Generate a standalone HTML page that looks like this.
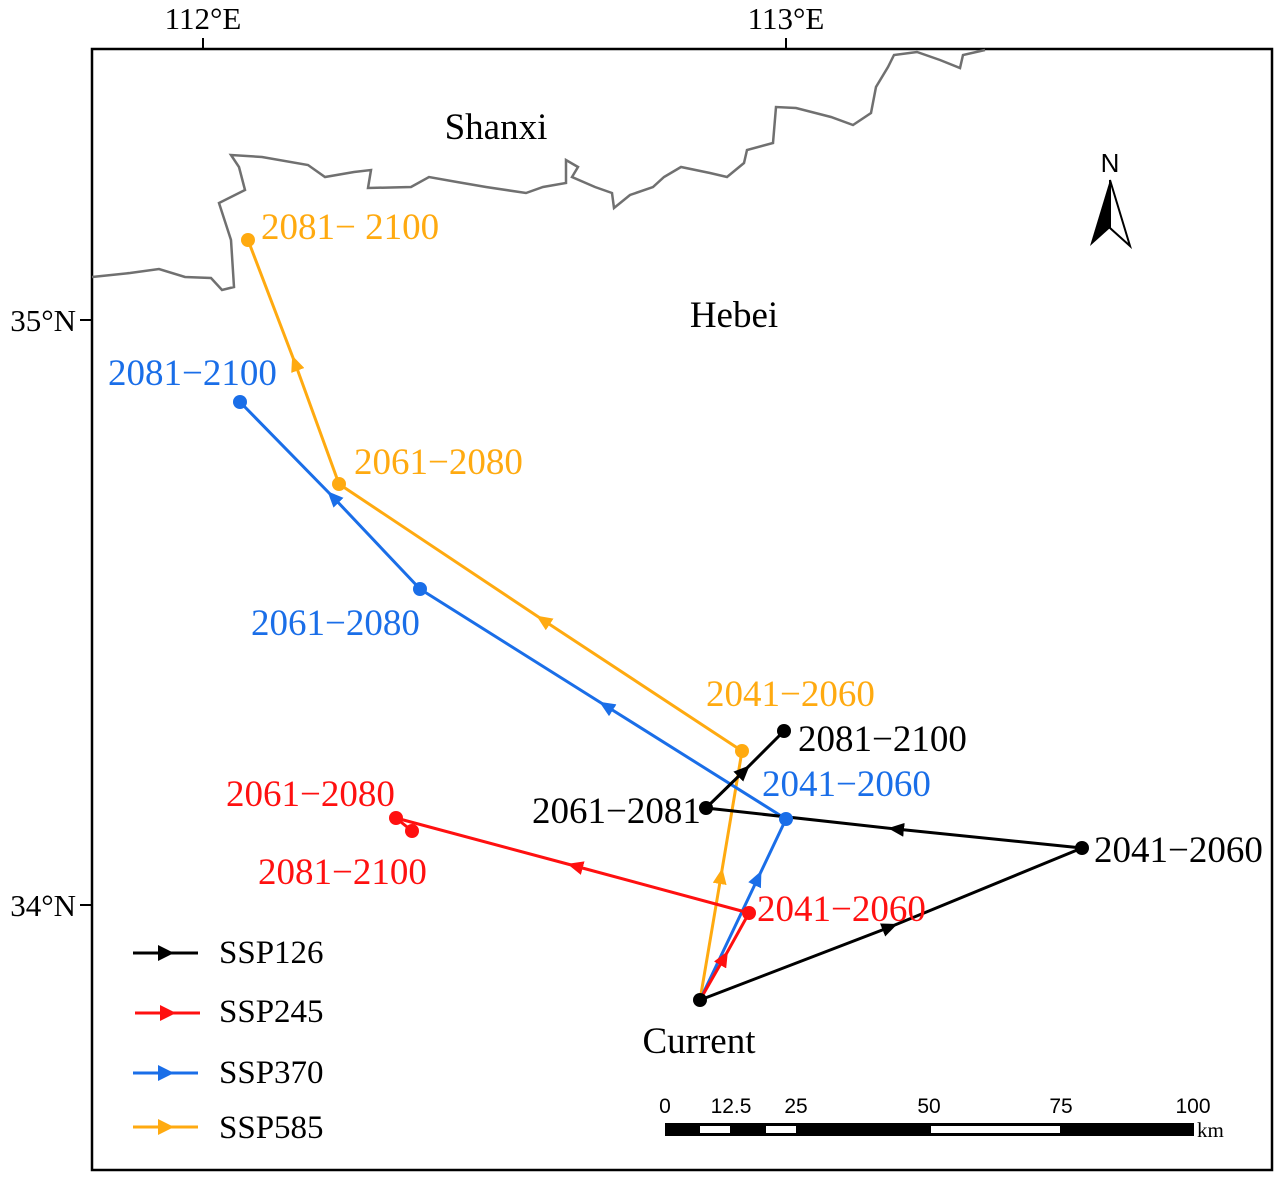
<!DOCTYPE html>
<html><head><meta charset="utf-8"><style>
html,body{margin:0;padding:0;background:#fff;}
svg{display:block;}
text{font-family:"Liberation Serif",serif;}
text.s{font-family:"Liberation Sans",sans-serif;}
</style></head><body>
<svg width="1280" height="1181" viewBox="0 0 1280 1181" xmlns="http://www.w3.org/2000/svg">
<defs>
<marker id="mk" viewBox="0 0 16 14" refX="8" refY="7" markerWidth="16" markerHeight="14" markerUnits="userSpaceOnUse" orient="auto"><path d="M0,0 L16,7 L0,14 Z" fill="#000"/></marker>
<marker id="mr" viewBox="0 0 16 14" refX="8" refY="7" markerWidth="16" markerHeight="14" markerUnits="userSpaceOnUse" orient="auto"><path d="M0,0 L16,7 L0,14 Z" fill="#ff1010"/></marker>
<marker id="mb" viewBox="0 0 16 14" refX="8" refY="7" markerWidth="16" markerHeight="14" markerUnits="userSpaceOnUse" orient="auto"><path d="M0,0 L16,7 L0,14 Z" fill="#1a6ee8"/></marker>
<marker id="mo" viewBox="0 0 16 14" refX="8" refY="7" markerWidth="16" markerHeight="14" markerUnits="userSpaceOnUse" orient="auto"><path d="M0,0 L16,7 L0,14 Z" fill="#ffaa10"/></marker>
</defs>
<rect x="92" y="49" width="1180" height="1121" fill="none" stroke="#000" stroke-width="2.5"/>
<line x1="203" y1="49" x2="203" y2="38" stroke="#000" stroke-width="2"/>
<line x1="786" y1="49" x2="786" y2="38" stroke="#000" stroke-width="2"/>
<line x1="92" y1="320" x2="80" y2="320" stroke="#000" stroke-width="2"/>
<line x1="92" y1="905" x2="80" y2="905" stroke="#000" stroke-width="2"/>
<text x="203" y="29" font-size="31" text-anchor="middle">112°E</text>
<text x="786" y="29" font-size="31" text-anchor="middle">113°E</text>
<text x="76" y="331" font-size="31" text-anchor="end">35°N</text>
<text x="76" y="916" font-size="31" text-anchor="end">34°N</text>
<polyline fill="none" stroke="#707070" stroke-width="2.5" points="92,277 130,273 159,269 185,277 211,278 222,290 234,287 231,240 219,203 245,190 239,167 231,155 262,157 308,165 325,177 354,172 371,170 368,188 411,187 429,177 457,182 486,187 526,193 543,187 566,183 566,160 578,167 572,177 595,187 612,193 614,208 630,195 653,187 664,177 681,167 710,173 727,177 744,163 747,150 773,143 776,107 796,108 831,117 853,125 871,113 876,87 888,67 894,55 917,52 940,60 960,68 963,55 985,50"/>
<text x="496" y="139" font-size="37" text-anchor="middle">Shanxi</text>
<text x="734" y="327" font-size="37" text-anchor="middle">Hebei</text>
<text class="s" x="1110" y="172" font-size="26" text-anchor="middle">N</text>
<path d="M1110,180 L1090,246 L1110,228 Z" fill="#000"/>
<path d="M1110,180 L1130,246 L1110,228 Z" fill="#fff" stroke="#000" stroke-width="2"/>
<g fill="none" stroke="#ffaa10" stroke-width="3">
<path d="M700,1000 L721,876 L742,751" marker-mid="url(#mo)"/>
<path d="M742,751 L543,620 L339,484" marker-mid="url(#mo)"/>
<path d="M339,484 L295,363 L248,240" marker-mid="url(#mo)"/>
</g>
<g fill="none" stroke="#1a6ee8" stroke-width="3">
<path d="M700,1000 L758,878 L786,819" marker-mid="url(#mb)"/>
<path d="M786,819 L606,706 L420,589" marker-mid="url(#mb)"/>
<path d="M420,589 L333,497 L240,402" marker-mid="url(#mb)"/>
</g>
<g fill="none" stroke="#ff1010" stroke-width="3">
<path d="M700,1000 L724,958 L749,913" marker-mid="url(#mr)"/>
<path d="M749,913 L575,866 L396,818" marker-mid="url(#mr)"/>
<path d="M396,818 L412,831"/>
</g>
<g fill="none" stroke="#000" stroke-width="3">
<path d="M700,1000 L890,927 L1082,848" marker-mid="url(#mk)"/>
<path d="M1082,848 L896,829 L706,808" marker-mid="url(#mk)"/>
<path d="M706,808 L744,771 L784,731" marker-mid="url(#mk)"/>
</g>
<g fill="#ffaa10"><circle cx="742" cy="751" r="7"/><circle cx="339" cy="484" r="7"/><circle cx="248" cy="240" r="7"/></g>
<g fill="#1a6ee8"><circle cx="786" cy="819" r="7"/><circle cx="420" cy="589" r="7"/><circle cx="240" cy="402" r="7"/></g>
<g fill="#ff1010"><circle cx="749" cy="913" r="7"/><circle cx="396" cy="818" r="7"/><circle cx="412" cy="831" r="7"/></g>
<g fill="#000"><circle cx="700" cy="1000" r="7"/><circle cx="1082" cy="848" r="7"/><circle cx="706" cy="808" r="7"/><circle cx="784" cy="731" r="7"/></g>
<g font-size="37">
<text x="261" y="239" fill="#ffaa10">2081− 2100</text>
<text x="354" y="474" fill="#ffaa10">2061−2080</text>
<text x="706" y="706" fill="#ffaa10">2041−2060</text>
<text x="108" y="385" fill="#1a6ee8">2081−2100</text>
<text x="251" y="635" fill="#1a6ee8">2061−2080</text>
<text x="762" y="796" fill="#1a6ee8">2041−2060</text>
<text x="226" y="806" fill="#ff1010">2061−2080</text>
<text x="258" y="884" fill="#ff1010">2081−2100</text>
<text x="757" y="921" fill="#ff1010">2041−2060</text>
<text x="798" y="751" fill="#000">2081−2100</text>
<text x="532" y="823" fill="#000">2061−2081</text>
<text x="1094" y="862" fill="#000">2041−2060</text>
<text x="699" y="1053" fill="#000" text-anchor="middle">Current</text>
</g>
<g stroke-width="3">
<line x1="133" y1="953" x2="198" y2="953" stroke="#000"/>
<line x1="135" y1="1013" x2="200" y2="1013" stroke="#ff1010"/>
<line x1="133" y1="1073" x2="198" y2="1073" stroke="#1a6ee8"/>
<line x1="133" y1="1127" x2="198" y2="1127" stroke="#ffaa10"/>
</g>
<path d="M158,945 L174,953 L158,961 Z" fill="#000"/>
<path d="M160,1005 L176,1013 L160,1021 Z" fill="#ff1010"/>
<path d="M158,1065 L174,1073 L158,1081 Z" fill="#1a6ee8"/>
<path d="M158,1119 L174,1127 L158,1135 Z" fill="#ffaa10"/>
<g font-size="33">
<text x="219" y="963">SSP126</text>
<text x="219" y="1022">SSP245</text>
<text x="219" y="1083">SSP370</text>
<text x="219" y="1138">SSP585</text>
</g>
<rect x="665" y="1123" width="529" height="13" fill="#000"/>
<rect x="700" y="1126" width="30" height="7" fill="#fff"/>
<rect x="766" y="1126" width="30" height="7" fill="#fff"/>
<rect x="931" y="1126" width="129" height="7" fill="#fff"/>
<g font-size="21" text-anchor="middle">
<text class="s" x="665" y="1113">0</text>
<text class="s" x="731" y="1113">12.5</text>
<text class="s" x="796" y="1113">25</text>
<text class="s" x="929" y="1113">50</text>
<text class="s" x="1061" y="1113">75</text>
<text class="s" x="1193" y="1113">100</text>
</g>
<text x="1197" y="1137" font-size="21">km</text>
</svg>
</body></html>
